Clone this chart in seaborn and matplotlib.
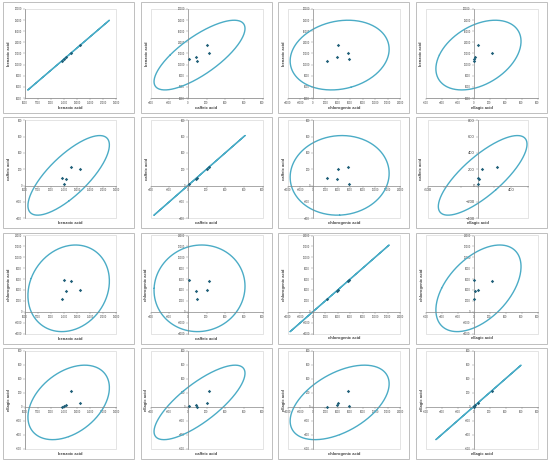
import numpy as np
import pandas as pd
import matplotlib.pyplot as plt
import seaborn as sns
from matplotlib.patches import Rectangle

# contents of the five samples
benzoic = [10680, 10970, 11330, 12090, 13510]
caffeic = [96, 15, 85, 228, 202]
chlorogenic = [2300, 5800, 3800, 5600, 4000]
ellagic = [2, 5, 18, 230, 55]

names = ["benzoic acid", "caffeic acid", "chlorogenic acid", "ellagic acid"]

# axis scales (min, max, step) as the spreadsheet picked them
x_scale = {"benzoic acid": (5000, 19000, 2000), "caffeic acid": (-400, 800, 200),
           "chlorogenic acid": (-4000, 14000, 2000), "ellagic acid": (-600, 800, 200)}
y_scale = {"benzoic acid": (4000, 20000, 2000), "caffeic acid": (-400, 800, 200),
           "chlorogenic acid": (-4000, 14000, 2000), "ellagic acid": (-600, 800, 200)}

df = pd.DataFrame({"benzoic acid": benzoic, "caffeic acid": caffeic,
                   "chlorogenic acid": chlorogenic, "ellagic acid": ellagic})

# 95% prediction ellipse, F(2, n-2) quantile for n = 5
f_95 = 9.5521
n = len(df)
k = np.sqrt(2 * (n - 1) * (n + 1) / (n * (n - 2)) * f_95)

sns.set_style("white")
plt.rcParams["font.family"] = ["Liberation Sans", "DejaVu Sans"]

W, H = 550, 461
fig = plt.figure(figsize=(5.5, 4.61), dpi=100)
cw, ch = W / 4, H / 4

ell_col = "#4BACC6"
pt_col = "#1F5F78"
axis_col = "#868686"

t = np.linspace(0, 2 * np.pi, 300)
circle = np.vstack([np.cos(t), np.sin(t)])

for r, yname in enumerate(names):
    for c, xname in enumerate(names):
        x0, y0 = c * cw, r * ch
        big = (r, c) == (1, 3)

        # chart border
        fig.patches.append(Rectangle(((x0 + 3) / W, 1 - (y0 + 113) / H), 131 / W, 111 / H,
                                     transform=fig.transFigure, fill=False,
                                     ec="#BFBFBF", lw=0.7))

        xb = xname == "benzoic acid"
        yb = yname == "benzoic acid"
        left = x0 + (25 if xb else 13)
        right = x0 + (116 if xb else 125)
        if big:
            left, right = x0 + 15, x0 + 115
        top = y0 + (9 if yb else 5)
        bottom = y0 + (98 if yb else 103)

        ax = fig.add_axes([left / W, 1 - bottom / H, (right - left) / W, (bottom - top) / H])

        xs, ys = df[xname], df[yname]
        vals, vecs = np.linalg.eigh(np.cov(xs, ys))
        vals = np.clip(vals, 0, None)
        pts = k * vecs @ (np.sqrt(vals)[:, None] * circle)
        ax.plot(xs.mean() + pts[0], ys.mean() + pts[1], color=ell_col, lw=1.0, zorder=2)
        sns.scatterplot(x=xs, y=ys, ax=ax, marker="D", s=3, color=pt_col,
                        linewidth=0, zorder=3)
        ax.set_xlabel("")
        ax.set_ylabel("")

        xmin, xmax, xstep = x_scale[xname]
        ymin, ymax, ystep = y_scale[yname]
        if big:
            xmin, xmax = -600, 600
        ax.set_xlim(xmin, xmax)
        ax.set_ylim(ymin, ymax)
        xt = np.arange(xmin, xmax + 1, xstep)
        ax.set_xticks(xt)
        ax.set_yticks(np.arange(ymin, ymax + 1, ystep))
        if big:
            ax.set_xticklabels([str(v) if v in (-600, 400) else "" for v in xt])

        for side in ["top", "right"]:
            ax.spines[side].set_visible(False)
        ax.spines["left"].set_position(("data", 0) if xmin < 0 < xmax else ("axes", 0))
        ax.spines["bottom"].set_position(("data", 0) if ymin < 0 < ymax else ("axes", 0))
        for side in ["left", "bottom"]:
            ax.spines[side].set_color(axis_col)
            ax.spines[side].set_linewidth(0.5)
        ax.add_patch(Rectangle((0, 0), 1, 1, transform=ax.transAxes, fill=False,
                               ec="#D9D9D9", lw=0.5, clip_on=False, zorder=0))
        ax.tick_params(labelsize=3.0 if big else 1.8, length=1.2, width=0.3,
                       color=axis_col, pad=0.8, labelcolor="#404040",
                       left=True, bottom=True)

        # axis titles
        fig.text((left + right) / 2 / W, 1 - (y0 + 108) / H, xname, ha="center",
                 va="center", fontsize=3.0, fontweight="bold", color="#404040")
        fig.text((x0 + 9) / W, 1 - (top + bottom) / 2 / H, yname, ha="center",
                 va="center", rotation=90, fontsize=3.0, fontweight="bold", color="#404040")

fig.savefig("out.png", dpi=100)
